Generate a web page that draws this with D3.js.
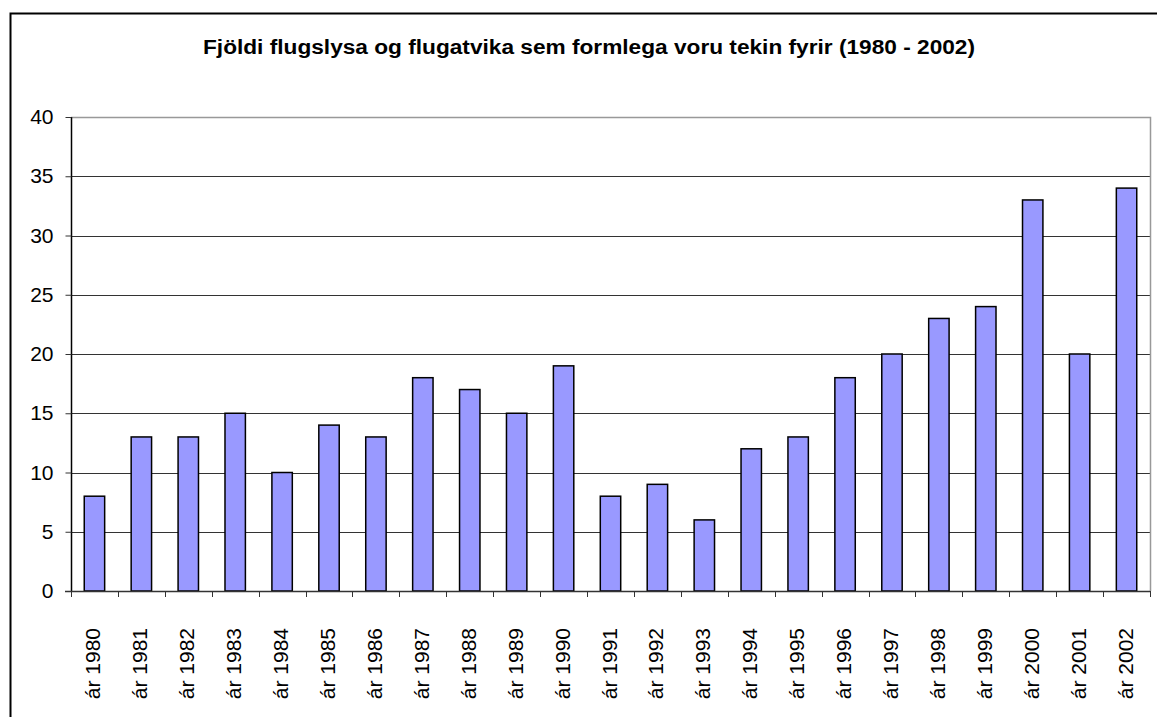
<!DOCTYPE html>
<html>
<head>
<meta charset="utf-8">
<script src="https://cdn.jsdelivr.net/npm/d3@7"></script>
<style>
  body { margin: 0; background: #fff; }
  svg { display: block; font-family: Arial, "Liberation Sans", sans-serif; }
</style>
</head>
<body>
<svg id="chart" width="1157" height="717"></svg>
<script>
// chart data
var years = ["ár 1980", "ár 1981", "ár 1982", "ár 1983", "ár 1984", "ár 1985", "ár 1986",
  "ár 1987", "ár 1988", "ár 1989", "ár 1990", "ár 1991", "ár 1992", "ár 1993", "ár 1994",
  "ár 1995", "ár 1996", "ár 1997", "ár 1998", "ár 1999", "ár 2000", "ár 2001", "ár 2002"];
var counts = [8, 13, 13, 15, 10, 14, 13, 18, 17, 15, 19, 8, 9, 6, 12, 13, 18, 20, 23, 24, 33, 20, 34];
var yTicks = [0, 5, 10, 15, 20, 25, 30, 35, 40];
var title = "Fjöldi flugslysa og flugatvika sem formlega voru tekin fyrir (1980 - 2002)";

var svg = d3.select("#chart");
var plotL = 71, plotR = 1150, plotT = 117, plotB = 591;

// outer frame (only left + top visible in the picture)
svg.append("path")
  .attr("d", "M10.5,717 V13.5 H1157")
  .attr("fill", "none")
  .attr("stroke", "#000")
  .attr("stroke-width", 2);

svg.append("text")
  .attr("x", 589)
  .attr("y", 54)
  .attr("text-anchor", "middle")
  .attr("font-size", "20px")
  .attr("font-weight", "bold")
  .attr("textLength", 772)
  .attr("lengthAdjust", "spacingAndGlyphs")
  .text(title);

var x = d3.scaleBand().domain(years).range([plotL, plotR]).paddingInner(0.565).paddingOuter(0.2825);
var xTick = d3.scaleBand().domain(years).range([plotL, plotR]);
var y = d3.scaleLinear().domain([0, 40]).range([plotB, plotT]);

// gridlines
svg.append("g").selectAll("line")
  .data(yTicks.filter(function (d) { return d > 0 && d < 40; }))
  .join("line")
  .attr("x1", plotL).attr("x2", plotR)
  .attr("y1", function (d) { return Math.round(y(d)) + 0.5; })
  .attr("y2", function (d) { return Math.round(y(d)) + 0.5; })
  .attr("stroke", "#333");

// plot border top + right
svg.append("path")
  .attr("d", "M" + plotL + "," + (plotT + 0.5) + " H" + (plotR + 0.5) + " V" + plotB)
  .attr("fill", "none")
  .attr("stroke", "#999")
  .attr("stroke-width", 1.5);

// bars
svg.append("g").selectAll("rect")
  .data(counts)
  .join("rect")
  .attr("x", function (d, i) { return x(years[i]); })
  .attr("y", function (d) { return y(d); })
  .attr("width", x.bandwidth())
  .attr("height", function (d) { return y(0) - y(d); })
  .attr("fill", "#9999ff")
  .attr("stroke", "#000")
  .attr("stroke-width", 1.5);

// y axis
var yAxis = svg.append("g")
  .attr("transform", "translate(" + (plotL + 0.5) + ",0)")
  .call(d3.axisLeft(y).tickValues(yTicks).tickSize(6).tickPadding(12));
yAxis.select(".domain").attr("stroke", "#000").attr("stroke-width", 1.5).attr("d", "M0," + plotT + "V" + plotB);
yAxis.selectAll(".tick line").attr("stroke", "#333");
yAxis.selectAll("text").attr("font-size", "21px").attr("font-family", "Arial, 'Liberation Sans', sans-serif").attr("fill", "#000");

// x axis ticks between categories
var bounds = years.map(function (d) { return xTick(d); }).concat([plotR]);
svg.append("g").selectAll("line")
  .data(bounds)
  .join("line")
  .attr("x1", function (d) { return Math.round(d) + 0.5; })
  .attr("x2", function (d) { return Math.round(d) + 0.5; })
  .attr("y1", plotB).attr("y2", plotB + 6)
  .attr("stroke", "#333");
svg.append("line")
  .attr("x1", plotL - 6).attr("x2", plotR)
  .attr("y1", plotB + 0.5).attr("y2", plotB + 0.5)
  .attr("stroke", "#333")
  .attr("stroke-width", 1.5);

// x labels, rotated
svg.append("g").selectAll("text")
  .data(years)
  .join("text")
  .attr("transform", function (d) {
    return "translate(" + (xTick(d) + xTick.bandwidth() / 2 + 6) + "," + 628 + ") rotate(-90)";
  })
  .attr("text-anchor", "end")
  .attr("font-size", "21px")
  .text(function (d) { return d; });
</script>
</body>
</html>
